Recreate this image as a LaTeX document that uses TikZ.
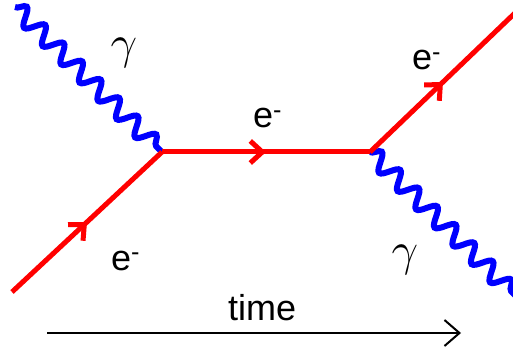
\documentclass[tikz,border=0pt]{standalone}
\usepackage{fontspec}
\setmainfont{Liberation Sans}
\usetikzlibrary{arrows.meta,decorations.pathmorphing,decorations.markings}
\begin{document}
\begin{tikzpicture}[x=1pt,y=-1pt,font=\fontsize{36}{40}\selectfont,
  electron/.style={red,line width=5pt,postaction={decorate},
    decoration={markings,mark=at position 0.5 with {\arrow{Straight Barb[length=12pt,width=22pt]}}}},
  photon/.style={blue,line width=6pt,decorate,
    decoration={snake,segment length=26pt,amplitude=8.5pt,post length=2pt}},
  lbl/.style={inner sep=0pt},
  gam/.style={inner sep=0pt,scale=1.9}]
\useasboundingbox (0,0) rectangle (513,352);
\begin{scope}
\clip (0,0) rectangle (513,352);
\coordinate (ein) at (12,292);
\coordinate (va) at (162,152);
\coordinate (vb) at (370,152);
\coordinate (eout) at (516,12);
\coordinate (gin) at (15,7);
\coordinate (gout) at (520,300);
\draw[photon] (gin) -- (va);
\draw[photon] (vb) -- (gout);
\draw[electron] (ein) -- (va);
\draw[electron] (va) -- (vb);
\draw[electron] (vb) -- (eout);
\end{scope}
\node[gam] (g1) at (124,53) {$\gamma$};
\node[gam] (g2) at (405,260) {$\gamma$};
\node[lbl,anchor=base west] (e1) at (111,270) {e\textsuperscript{-}};
\node[lbl,anchor=base west] (e2) at (253,128) {e\textsuperscript{-}};
\node[lbl,anchor=base west] (e3) at (412,70) {e\textsuperscript{-}};
\coordinate (t0) at (47,333);
\coordinate (t1) at (461,333);
\draw[line width=2pt,-{Straight Barb[length=15pt,width=26pt]}] (t0) -- (t1);
\node[lbl,anchor=base west] (tm) at (228,320) {time};
\end{tikzpicture}
\end{document}
